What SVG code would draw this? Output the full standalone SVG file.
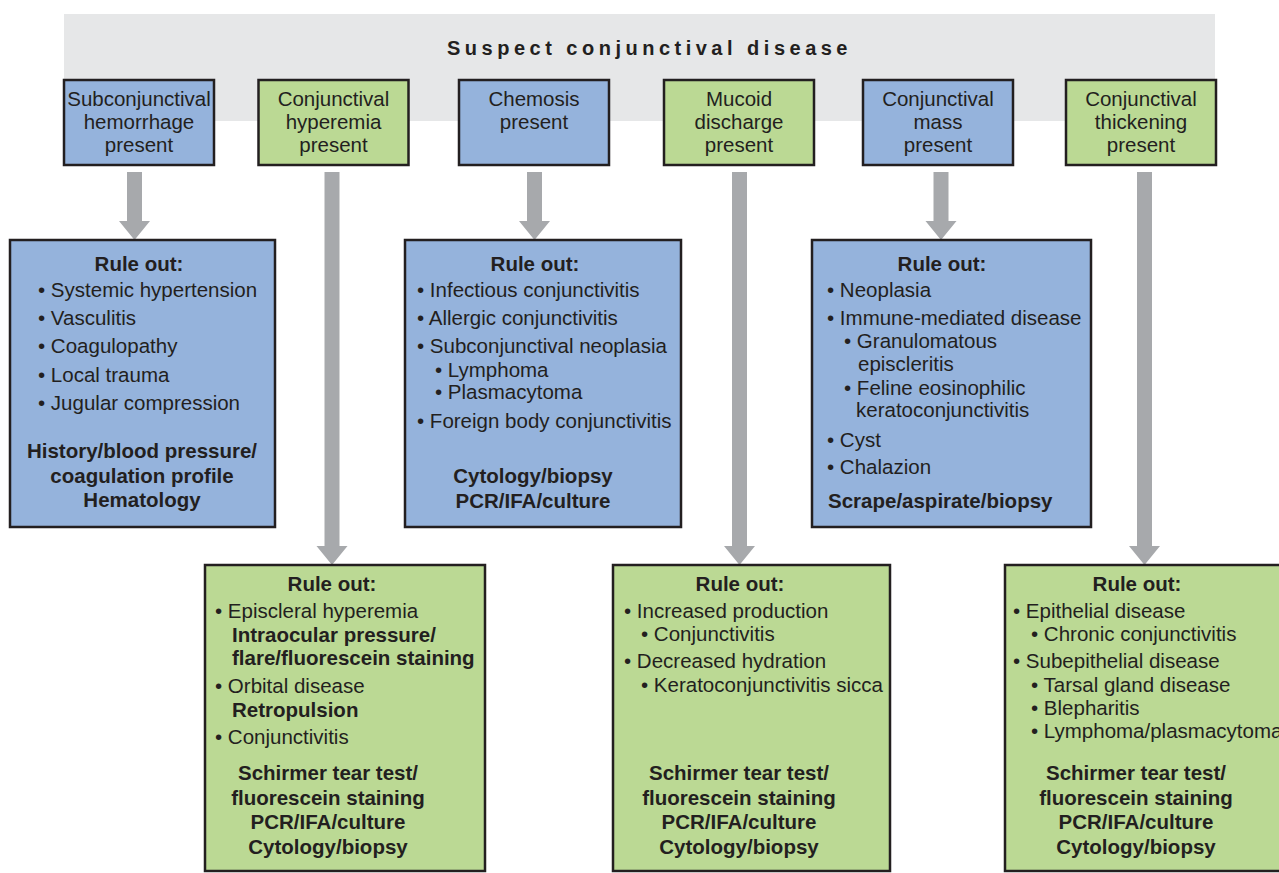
<svg xmlns="http://www.w3.org/2000/svg" width="1279" height="873" viewBox="0 0 1279 873">
<style>
text{font-family:"Liberation Sans",Arial,Helvetica,sans-serif;font-size:20.5px;fill:#231f20}
.b{font-weight:bold}
.m{text-anchor:middle}
.title{font-weight:bold;font-size:20px;letter-spacing:4.5px}
.blue{fill:#95b3dc;stroke:#231f20;stroke-width:2.5}
.green{fill:#bbd994;stroke:#231f20;stroke-width:2.5}
.arrow{fill:#a7a9ac}
</style>
<rect width="1279" height="873" fill="#ffffff"/>
<g id="header">
<rect x="64" y="14" width="1151" height="107" fill="#e6e7e8"/>
<text class="title" x="447" y="55">Suspect conjunctival disease</text>
</g>
<g id="connectors">
<polygon class="arrow" points="127,172 142,172 142,221 150,221 134.5,240 119,221 127,221"/>
<polygon class="arrow" points="324.5,172 339.5,172 339.5,546 347.5,546 332,565 316.5,546 324.5,546"/>
<polygon class="arrow" points="527,172 542,172 542,221 550,221 534.5,240 519,221 527,221"/>
<polygon class="arrow" points="732,172 747,172 747,546 755,546 739.5,565 724,546 732,546"/>
<polygon class="arrow" points="933.5,172 948.5,172 948.5,221 956.5,221 941,240 925.5,221 933.5,221"/>
<polygon class="arrow" points="1137,172 1152,172 1152,546 1160,546 1144.5,565 1129,546 1137,546"/>
</g>
<g id="n1">
<rect class="blue" x="64" y="80" width="150" height="85"/>
<text class="m" x="139" y="106">Subconjunctival</text>
<text class="m" x="139" y="129">hemorrhage</text>
<text class="m" x="139" y="152">present</text>
</g>
<g id="n2">
<rect class="green" x="258.5" y="80" width="150" height="85"/>
<text class="m" x="333.5" y="106">Conjunctival</text>
<text class="m" x="333.5" y="129">hyperemia</text>
<text class="m" x="333.5" y="152">present</text>
</g>
<g id="n3">
<rect class="blue" x="459" y="80" width="150" height="85"/>
<text class="m" x="534" y="106">Chemosis</text>
<text class="m" x="534" y="129">present</text>
</g>
<g id="n4">
<rect class="green" x="664" y="80" width="150" height="85"/>
<text class="m" x="739" y="106">Mucoid</text>
<text class="m" x="739" y="129">discharge</text>
<text class="m" x="739" y="152">present</text>
</g>
<g id="n5">
<rect class="blue" x="863" y="80" width="150" height="85"/>
<text class="m" x="938" y="106">Conjunctival</text>
<text class="m" x="938" y="129">mass</text>
<text class="m" x="938" y="152">present</text>
</g>
<g id="n6">
<rect class="green" x="1066" y="80" width="150" height="85"/>
<text class="m" x="1141" y="106">Conjunctival</text>
<text class="m" x="1141" y="129">thickening</text>
<text class="m" x="1141" y="152">present</text>
</g>
<g id="r1">
<rect class="blue" x="10" y="240" width="265" height="287"/>
<text class="b m" x="139" y="271">Rule out:</text>
<text x="38" y="297">• Systemic hypertension</text>
<text x="38" y="325">• Vasculitis</text>
<text x="38" y="353">• Coagulopathy</text>
<text x="38" y="382">• Local trauma</text>
<text x="38" y="410">• Jugular compression</text>
<text class="b m" x="142" y="458">History/blood pressure/</text>
<text class="b m" x="142" y="483">coagulation profile</text>
<text class="b m" x="142" y="507">Hematology</text>
</g>
<g id="r3">
<rect class="blue" x="405" y="240" width="276" height="287"/>
<text class="b m" x="535" y="271">Rule out:</text>
<text x="417" y="297">• Infectious conjunctivitis</text>
<text x="417" y="325">• Allergic conjunctivitis</text>
<text x="417" y="353">• Subconjunctival neoplasia</text>
<text x="435" y="377">• Lymphoma</text>
<text x="435" y="399">• Plasmacytoma</text>
<text x="417" y="428">• Foreign body conjunctivitis</text>
<text class="b m" x="533" y="483">Cytology/biopsy</text>
<text class="b m" x="533" y="508">PCR/IFA/culture</text>
</g>
<g id="r5">
<rect class="blue" x="812" y="240" width="279" height="287"/>
<text class="b m" x="942" y="271">Rule out:</text>
<text x="827" y="297">• Neoplasia</text>
<text x="827" y="325">• Immune-mediated disease</text>
<text x="844" y="348">• Granulomatous</text>
<text x="858" y="371">episcleritis</text>
<text x="844" y="395">• Feline eosinophilic</text>
<text x="856" y="417">keratoconjunctivitis</text>
<text x="827" y="447">• Cyst</text>
<text x="827" y="474">• Chalazion</text>
<text class="b" x="828" y="508">Scrape/aspirate/biopsy</text>
</g>
<g id="r2">
<rect class="green" x="205" y="565" width="280" height="306"/>
<text class="b m" x="332" y="591">Rule out:</text>
<text x="215" y="618">• Episcleral hyperemia</text>
<text class="b" x="232" y="642">Intraocular pressure/</text>
<text class="b" x="232" y="665">flare/fluorescein staining</text>
<text x="215" y="693">• Orbital disease</text>
<text class="b" x="232" y="717">Retropulsion</text>
<text x="215" y="744">• Conjunctivitis</text>
<text class="b m" x="328" y="780">Schirmer tear test/</text>
<text class="b m" x="328" y="805">fluorescein staining</text>
<text class="b m" x="328" y="829">PCR/IFA/culture</text>
<text class="b m" x="328" y="854">Cytology/biopsy</text>
</g>
<g id="r4">
<rect class="green" x="613" y="565" width="277" height="306"/>
<text class="b m" x="740" y="591">Rule out:</text>
<text x="624" y="618">• Increased production</text>
<text x="641" y="641">• Conjunctivitis</text>
<text x="624" y="668">• Decreased hydration</text>
<text x="641" y="692">• Keratoconjunctivitis sicca</text>
<text class="b m" x="739" y="780">Schirmer tear test/</text>
<text class="b m" x="739" y="805">fluorescein staining</text>
<text class="b m" x="739" y="829">PCR/IFA/culture</text>
<text class="b m" x="739" y="854">Cytology/biopsy</text>
</g>
<g id="r6">
<rect class="green" x="1005" y="565" width="290" height="306"/>
<text class="b m" x="1137" y="591">Rule out:</text>
<text x="1013" y="618">• Epithelial disease</text>
<text x="1031" y="641">• Chronic conjunctivitis</text>
<text x="1013" y="668">• Subepithelial disease</text>
<text x="1031" y="692">• Tarsal gland disease</text>
<text x="1031" y="715">• Blepharitis</text>
<text x="1031" y="738">• Lymphoma/plasmacytoma</text>
<text class="b m" x="1136" y="780">Schirmer tear test/</text>
<text class="b m" x="1136" y="805">fluorescein staining</text>
<text class="b m" x="1136" y="829">PCR/IFA/culture</text>
<text class="b m" x="1136" y="854">Cytology/biopsy</text>
</g>
</svg>
